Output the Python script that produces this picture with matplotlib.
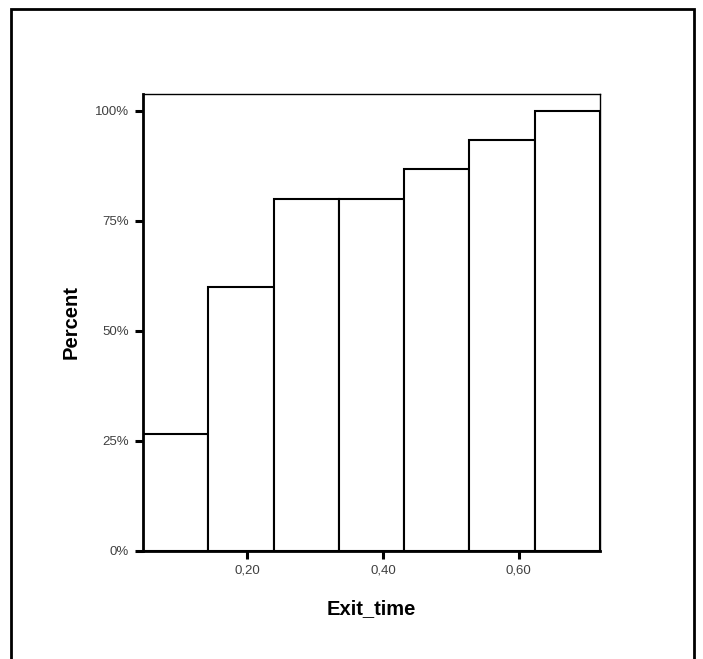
import matplotlib
matplotlib.use("Agg")
import matplotlib.pyplot as plt
from matplotlib.patches import Rectangle

# cumulative histogram of Exit_time (percent)
bin_edges = [0.0469, 0.1430, 0.2391, 0.3352, 0.4313, 0.5274, 0.6235, 0.7196]
cum_percent = [26.7, 60.0, 80.0, 80.0, 86.7, 93.3, 100.0]
x_ticks = [0.20, 0.40, 0.60]
x_tick_labels = ["0,20", "0,40", "0,60"]
y_ticks = [0, 25, 50, 75, 100]
y_tick_labels = ["0%", "25%", "50%", "75%", "100%"]

plt.rcParams['font.family'] = ['Liberation Sans', 'DejaVu Sans']

fig = plt.figure(figsize=(7.03, 6.59), dpi=100)
ax = fig.add_axes([0.2034, 0.1639, 0.6501, 0.6935])

lefts = bin_edges[:-1]
widths = [b - a for a, b in zip(bin_edges[:-1], bin_edges[1:])]
ax.bar(lefts, cum_percent, width=widths, align='edge',
       facecolor='white', edgecolor='black', linewidth=1.5)

ax.set_xlim(bin_edges[0], bin_edges[-1])
ax.set_ylim(0, 103.86)

ax.set_xticks(x_ticks)
ax.set_xticklabels(x_tick_labels)
ax.set_yticks(y_ticks)
ax.set_yticklabels(y_tick_labels)
ax.tick_params(length=6, width=2.2, labelsize=9.5, labelcolor='#404040', pad=4)

for side in ['top', 'right']:
    ax.spines[side].set_linewidth(1.0)
for side in ['left', 'bottom']:
    ax.spines[side].set_linewidth(2.0)

ax.set_xlabel("Exit_time", fontsize=14.5, fontweight='bold', labelpad=16)
ax.set_ylabel("Percent", fontsize=14.5, fontweight='bold', labelpad=10)

# outer frame of the chart
frame = Rectangle((11 / 703, -0.02), (694 - 11) / 703, 1.02 - 9 / 659,
                  transform=fig.transFigure, fill=False,
                  edgecolor='black', linewidth=2, clip_on=False)
fig.patches.append(frame)

fig.savefig("out.png", dpi=100)
